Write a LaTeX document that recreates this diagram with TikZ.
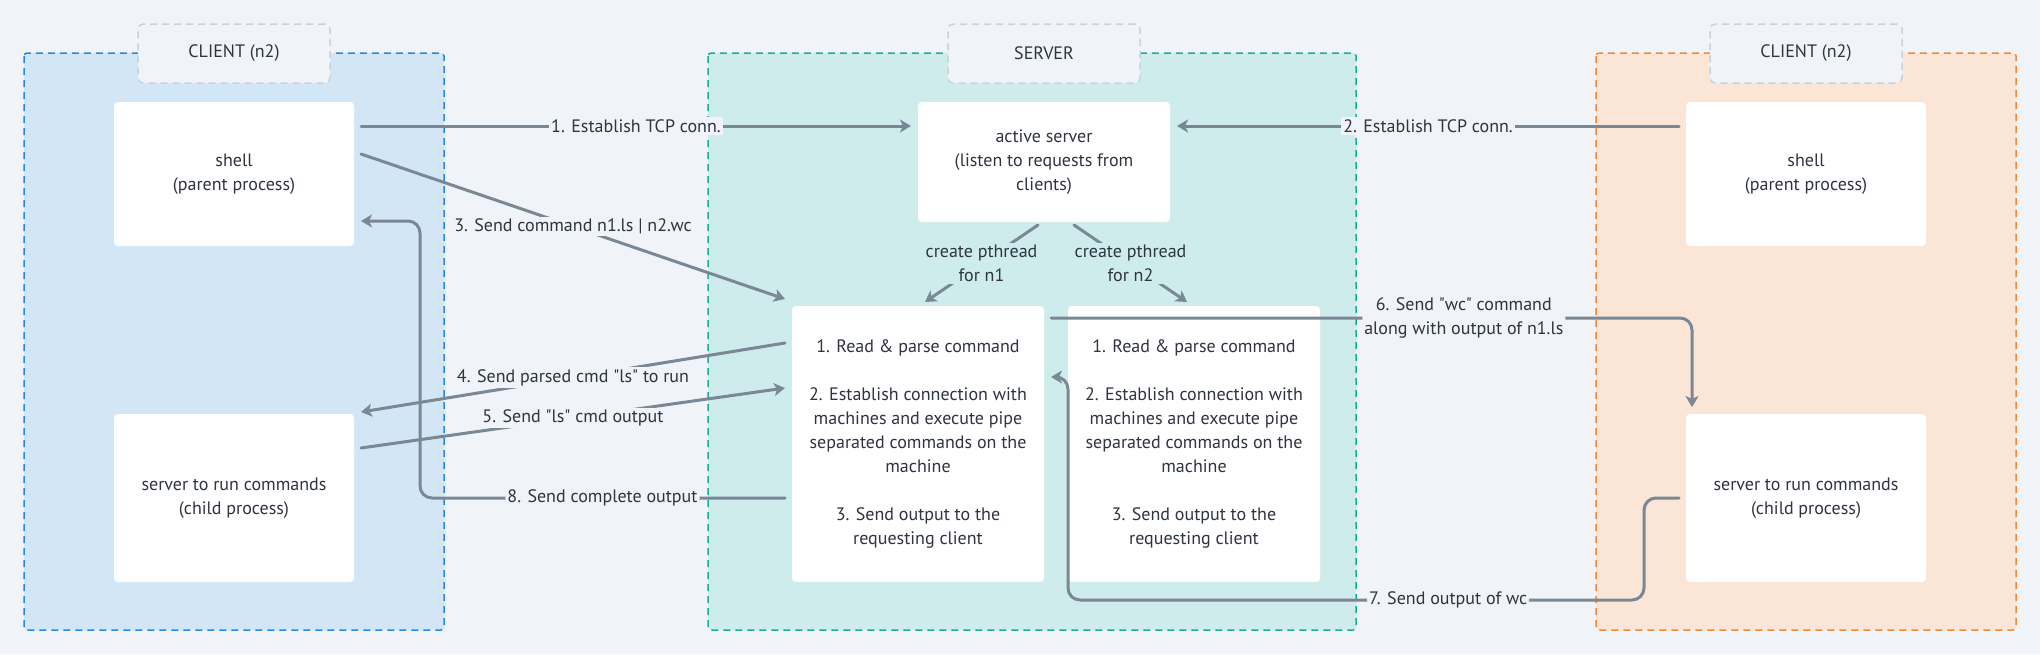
\documentclass[tikz,border=0pt]{standalone}
\usepackage{fontspec}
\setmainfont{PT Sans}[Ligatures=TeXOff]
\usetikzlibrary{arrows.meta}

\definecolor{bg}{HTML}{F0F4F8}
\definecolor{ink}{HTML}{2E3440}
\definecolor{wire}{HTML}{7A8896}
\definecolor{blueline}{HTML}{2B86E0}
\definecolor{bluefill}{HTML}{D3E6F6}
\definecolor{greenline}{HTML}{1AAE96}
\definecolor{greenfill}{HTML}{CEECEB}
\definecolor{orangeline}{HTML}{EE8A3A}
\definecolor{orangefill}{HTML}{FAE5D6}
\definecolor{tagline}{HTML}{C8D2DC}

\newcommand{\diagfont}{\fontsize{18}{24}\selectfont}
\newcommand{\threadtext}{1. Read \& parse command\\[24pt]2. Establish connection with\\machines and execute pipe\\separated commands on the\\machine\\[24pt]3. Send output to the\\requesting client}

\tikzset{
  box/.style={fill=white, rounded corners=4pt, inner sep=0pt, outer sep=7pt,
    align=center, text=ink, font=\diagfont},
  tag/.style={fill=bg, draw=tagline, line width=1.5pt, dash pattern=on 7pt off 5pt,
    rounded corners=5pt, minimum width=192pt, minimum height=59pt, text=ink, font=\diagfont},
  conn/.style={draw=wire, line width=3pt, line cap=round,
    -{Stealth[length=11pt,width=13pt,inset=3pt]}},
  lbl/.style={fill=bg, inner sep=2pt, text=ink, font=\diagfont, align=center},
}

\begin{document}
\begin{tikzpicture}[x=1pt,y=-1pt]

\fill[bg] (0,0) rectangle (2040,654);
\useasboundingbox (0,0) rectangle (2040,654);

% The three machines
\foreach \xa/\xb/\tx/\edge/\tint/\ttl [count=\i] in {24/444/234/blueline/bluefill/{CLIENT (n2)},
    708/1356/1044/greenline/greenfill/SERVER, 1596/2016/1806/orangeline/orangefill/{CLIENT (n2)}}{
\draw[draw=\edge, fill=\tint, line width=1.5pt, dash pattern=on 7pt off 5pt, rounded corners=3pt]
  (\xa,53) rectangle (\xb,630);
\node[tag] (tag\i) at (\tx,53.5) {\ttl};
}

% Processes
\node[box, minimum width=240pt, minimum height=144pt] (sh1) at (234,174) {shell\\(parent process)};
\node[box, minimum width=240pt, minimum height=168pt] (ch1) at (234,498) {server to run commands\\(child process)};
\node[box, minimum width=252pt, minimum height=120pt] (srv) at (1044,162) {active server\\(listen to requests from\\clients)};
\node[box, minimum width=252pt, minimum height=276pt] (t1) at (918,444) {\threadtext};
\node[box, minimum width=252pt, minimum height=276pt] (t2) at (1194,444) {\threadtext};
\node[box, minimum width=240pt, minimum height=144pt] (sh2) at (1806,174) {shell\\(parent process)};
\node[box, minimum width=240pt, minimum height=168pt] (ch2) at (1806,498) {server to run commands\\(child process)};

% Messages
\draw[conn] (sh1.east |- 0,126) -- node[lbl]{1. Establish TCP conn.} (srv.west |- 0,126);
\draw[conn] (sh2.west |- 0,126) -- node[lbl]{2. Establish TCP conn.} (srv.east |- 0,126);
\draw[conn] ([yshift=20pt]sh1.east) -- node[lbl]{3. Send command n1.ls | n2.wc} (t1.north west);
\draw[conn] (t1.west |- 0,343) -- node[lbl]{4. Send parsed cmd "ls" to run} (ch1.east |- 0,412);
\draw[conn] (ch1.east |- 0,448) -- node[lbl]{5. Send "ls" cmd output} (t1.west |- 0,388);

\draw[conn] ([xshift=-6pt,yshift=4pt]srv.south) -- node[lbl, fill=greenfill]{create pthread\\for n1}
  ([xshift=7pt,yshift=-3pt]t1.north);
\draw[conn] ([xshift=30pt,yshift=4pt]srv.south) -- node[lbl, fill=greenfill]{create pthread\\for n2}
  ([xshift=-7pt,yshift=-3pt]t2.north);

\draw[conn, rounded corners=12pt] (t1.east |- 0,318)
  -- node[lbl, pos=0.644]{6. Send "wc" command\\along with output of n1.ls} (1692,318)
  -- ([xshift=13pt]ch2.north west);
\draw[conn, rounded corners=12pt] (ch2.west) -- (1644,498) -- (1644,600)
  -- node[lbl, pos=0.34]{7. Send output of wc} (1068,600) -- (1068,377) -- (t1.east |- 0,377);
\draw[conn, rounded corners=12pt] (t1.west |- 0,498) -- node[lbl]{8. Send complete output} (420,498)
  -- (420,221) -- (sh1.east |- 0,221);

\end{tikzpicture}
\end{document}
